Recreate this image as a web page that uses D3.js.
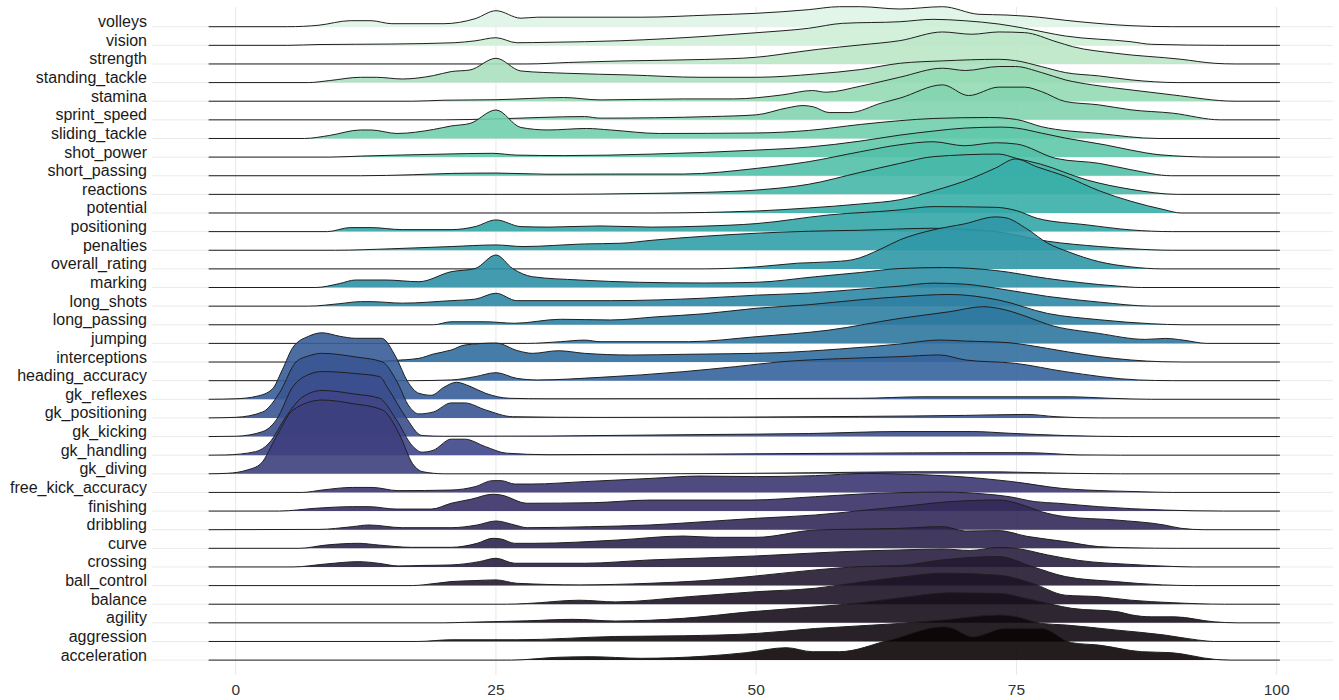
<!DOCTYPE html>
<html>
<head>
<meta charset="utf-8">
<script src="https://cdn.jsdelivr.net/npm/d3@7/dist/d3.min.js"></script>
<style>
  body { margin: 0; background: #fff; }
  text { font-family: "Liberation Sans", Arial, sans-serif; }
</style>
</head>
<body>
<svg id="chart" width="1339" height="700"></svg>
<script>
// rows, bottom to top
const attributes = ["acceleration","aggression","agility","balance","ball_control","crossing","curve",
  "dribbling","finishing","free_kick_accuracy","gk_diving","gk_handling","gk_kicking","gk_positioning",
  "gk_reflexes","heading_accuracy","interceptions","jumping","long_passing","long_shots","marking",
  "overall_rating","penalties","positioning","potential","reactions","short_passing","shot_power",
  "sliding_tackle","sprint_speed","stamina","standing_tackle","strength","vision","volleys"]
const xTicks = [0, 25, 50, 75, 100]

// estimated density heights, [value, height] pairs (height)
const acceleration = [[-2.6,0],[26.5,0],[30.9,2.8],[34.1,3.4],[38.9,1.8],[45.2,4],[49,7.4],[52.9,12.4],[55.4,8.4],[58,8.4],[62.8,20],[67.9,33.4],[68.6,32.8],[70.8,23.4],[73.9,31.8],[77.4,31.8],[80.3,17.4],[82.9,15],[87,8.4],[89.9,7.4],[94,0.8],[95.6,0],[100.3,0]]
const aggression = [[-2.6,0],[17.5,0],[20.7,1.7],[27,1.7],[36.5,5],[43,5.7],[50,8],[55.7,13],[63.8,18],[67.9,21.5],[73.3,26.5],[74.9,25],[77.4,18],[79.7,16.5],[84.5,11.5],[89.2,6.5],[92.4,1.5],[94,0],[100.3,0]]
const agility = [[-2.6,0],[20,0],[22,0.5],[28,2],[32.4,3.5],[36.5,1.8],[43,4.5],[49.4,11],[55.7,16],[60,20],[63.8,25],[68.6,30],[73.3,29.5],[76.5,23],[80.3,14.5],[84.8,11],[86,8],[88,6],[90.2,6],[94,1],[96.2,0],[100.3,0]]
const balance = [[-2.6,0],[26,0],[28,0.7],[33,4],[36.5,2.3],[43.5,7.5],[50,12.5],[55.7,16],[60,22],[63.8,27],[67.9,31],[73.3,29],[76.5,21],[79.7,9],[82.9,7.5],[86,4],[90,1.5],[95,0],[100.3,0]]
const ball_control = [[-2.6,0],[17,0],[18,0.7],[20.7,4],[23,5],[25,5.7],[27,2.3],[33,0.7],[39.8,2.3],[45,5],[49.4,9],[55.7,15.7],[60,19],[63.8,20],[67.9,25.7],[73.3,29],[76.5,19],[79.7,9],[84.5,4],[89,0.7],[92,0],[100.3,0]]
const crossing = [[-2.6,0],[5.5,0],[8.7,3],[11.8,5.3],[13.7,3.7],[15.6,1],[18,1.5],[20.7,2],[23.4,5.3],[25,8.7],[26.8,3.7],[33.5,3.7],[39.8,7],[45,9],[50,11],[55.7,14],[60,16],[63.8,17],[67.9,18],[70.5,16.5],[73.3,19.5],[75,18.5],[78,12],[81,6.5],[86,2.5],[90,0.5],[92,0],[100.3,0]]
const curve = [[-2.6,0],[6.1,0],[8.7,3.3],[11.8,5],[13.7,3.3],[16.9,1],[20.7,1],[23.2,5],[24.7,10],[25.5,9.3],[26.8,5],[28.7,5],[36.7,8.3],[43,12.3],[46,11],[50,11],[55.7,18.3],[63.8,20],[67.9,21.7],[70.1,17.3],[73.3,17.7],[76,12],[79.7,6.7],[82.9,1.7],[86,0.5],[90.5,0],[100.3,0]]
const dribbling = [[-2.6,0],[8,0.3],[11.2,3],[12.8,4.7],[16,2],[20.7,2],[23.2,4.7],[25,8.7],[26.8,4.7],[28,2],[34,3],[39.8,4.7],[45,8],[50,11.4],[55.7,14.7],[60,19],[63.8,23],[68.6,28],[73.3,29.7],[75.5,25],[77.4,18],[79.7,13],[84.5,9.7],[89.2,4.7],[90.8,1.4],[93,0],[100.3,0]]
const finishing = [[-2.6,0],[4.2,0],[7.7,2.8],[11.2,4.4],[12.8,4.4],[15.4,2],[18.8,2],[20.7,7.8],[22.6,11.8],[24.7,16.8],[25.5,16],[28,7.8],[34.4,8.4],[39.8,11],[49.4,11],[55.7,14.4],[60,17],[63.8,18.4],[67.9,19],[72,17],[74.3,14.4],[76.8,9.4],[79,7.8],[82.9,4.4],[89.2,1],[94.9,0],[100.3,0]]
const free_kick_accuracy = [[-2.6,0],[6.4,0],[8.3,2.4],[11.2,5],[13.1,5],[15.6,1.8],[20.7,2.4],[23,5.8],[24.7,11.8],[25.5,11.8],[26.8,8.4],[28.4,8.4],[33.5,10.8],[39.8,14],[44.6,16.4],[50,15.8],[55.7,16.8],[60.5,19],[63.8,18.4],[68.6,16.4],[74.6,10.8],[79.4,4],[84,1.5],[87,0.7],[90,0],[100.3,0]]
const gk_diving = [[-2.6,0],[-0.8,0.5],[1.1,3.8],[2.4,10],[3.9,37],[5.5,63.8],[8.3,73.8],[11.2,70.3],[14.1,63.8],[15.7,40],[17,10],[18,2],[20,0],[40,0],[55,1],[65,2],[72,2],[80,0.5],[85,0],[100.3,0]]
const gk_handling = [[-2.6,0],[-1,0.2],[1.9,3.5],[3.2,12],[4.8,38],[6.4,58],[8.3,64.7],[11.5,61],[13.8,57],[15.4,36],[17,9],[17.9,3],[19,5],[20.7,16],[22,16],[24,8.5],[26,2],[30,0.5],[60,2],[70,2.5],[76,2.5],[81,0.3],[85,0],[100.3,0]]
const gk_kicking = [[-2.6,0],[0,0.3],[2.6,5],[3.9,16.6],[5.5,50],[7,62],[8.3,65],[11.5,63],[13.8,60],[14.7,47],[16.3,20],[17.9,1],[20,0.3],[30,0.5],[35,1],[45,2],[55,3],[63.8,5],[70.8,5],[74.3,3.3],[79.7,1],[85.8,0],[100.3,0]]
const gk_positioning = [[-2.6,0],[0,0.6],[2.6,6],[4.2,25],[5.8,56],[7,62],[8.3,64.6],[11.5,61],[14.1,56],[15.4,38],[16.7,11],[17.6,4],[19,6],[20.7,15],[22,15],[24,8],[26.6,1.2],[35,0.5],[60,1.5],[70,2.5],[76,3.5],[78.8,1.2],[83,0],[100.3,0]]
const gk_reflexes = [[-2.6,0],[0,0.5],[2,3],[3.5,10],[4.5,30],[5.5,52],[7,63],[8.3,66.5],[10,63],[11.5,61],[14,61],[15.4,42],[16.5,18],[17.6,6],[18.8,4],[20,12],[21.2,17],[22.5,13],[24,6],[26.3,1],[30,0.5],[60,1],[66,2.5],[80,2.5],[84,1],[88,0],[100.3,0]]
const heading_accuracy = [[-2.6,0],[17,0],[20.7,0.7],[23,4],[25,8],[27,2.3],[29,0.7],[35,3.3],[43,9],[48,14],[52.5,19],[58,22],[63.8,24],[67.6,25.7],[70.1,20.7],[74.9,17.3],[79.7,9],[86.7,0.7],[90,0],[100.3,0]]
const interceptions = [[-2.6,0],[12,0],[15,1.5],[17.6,3.7],[19,8],[20.7,12],[22,17],[25,19],[27.1,11.3],[28.5,8.7],[31,11.3],[33.5,8.7],[38,7],[43,7.7],[52,9.3],[58,13],[63.8,18],[67.6,22],[70,21],[74.3,19.3],[76,17],[80,10],[83,5.3],[89,0.3],[91,0],[100.3,0]]
const jumping = [[-2.6,0],[28,0],[31.2,1.7],[33.5,3.3],[35,1.7],[43.5,1.7],[50,6.7],[57,13.3],[63.8,25],[68.6,31.7],[71.8,36.7],[73.3,35],[76,26.7],[78,19],[82.9,10],[87.4,4],[89.3,5],[91,3.3],[93.3,0],[100.3,0]]
const long_passing = [[-2.6,0],[19,0],[20.7,3],[24,3],[26.8,1.5],[31.2,5.5],[36,4.8],[40.5,8],[45,11],[50,16.5],[55,20],[60,25],[63.8,28],[68.6,30.3],[73.3,24.7],[78,11.3],[83,5],[88,1],[91,0],[100.3,0]]
const long_shots = [[-2.6,0],[7,0],[10,2.5],[12,4.5],[13,4.5],[16,3],[20.7,5.5],[23,7],[25,12.9],[27,5.5],[36,5.5],[45,8],[50,11],[55,13],[60,17],[63.8,20],[67,23],[70,22],[73,18],[78,9.7],[83,4],[88,0],[100.3,0]]
const marking = [[-2.6,0],[7.7,0],[10,4],[11.5,7.5],[14.4,7.5],[17.6,5.8],[20.7,15.8],[23,19],[25,32.5],[26.6,19],[28.5,10.8],[33,7.5],[38.8,5.2],[45,4.5],[50,5.2],[55.7,10.8],[60,15],[63.8,19],[68,20],[73,17],[78,9],[84.6,1.5],[87,0],[100.3,0]]
const overall_rating = [[-2.6,0],[45,0],[50,2],[54,5.7],[57,7],[59.2,9],[62,20],[63.8,29],[67,39],[70,45],[73,52],[74,51],[76,40],[78,25.7],[80,17],[82.9,7.3],[86,2],[89,0],[100.3,0]]
const penalties = [[-2.6,0],[9.6,0],[15,1.5],[20.7,3.7],[25,5.3],[27.6,3.7],[33.5,6.3],[37,7],[40,10],[45,14],[50,17],[55,19],[60,20],[67,22],[70,21],[73,18.7],[78,9],[83,3.7],[86,1.5],[90,0],[100.3,0]]
const positioning = [[-2.6,0],[8.8,0],[11,4],[13,4],[16,2],[20.7,2],[23,5],[25,11.7],[27.4,5],[30,4.5],[35,5.7],[40,4.5],[45,5.5],[50,8],[57,16.7],[63.8,21.7],[67,25],[73,24.3],[75,21],[77,13.3],[81.8,6.7],[86,1.7],[90,0],[100.3,0]]
const potential = [[-2.6,0],[40,0],[50,2],[55,5],[60,9],[63.8,13.3],[67,22],[70.8,35],[73,45],[74.9,54],[77,46],[79.7,36.7],[83,22],[86,11.7],[89.2,3.3],[90.8,0],[100.3,0]]
const reactions = [[-2.6,0],[30,0],[40,1],[45,2],[50,4.3],[55,10],[60,22],[63.8,31],[67,37.7],[73.3,40.3],[75,36],[77.3,30.3],[81.8,14.3],[86,5],[90.5,0],[100.3,0]]
const short_passing = [[-2.6,0],[12,0],[17,1],[20.7,2.3],[25,2.7],[30,1.5],[36,1.7],[43,1.7],[50,7.3],[55,14],[60,24],[63.8,31],[67,34],[70,30],[73,33],[75,31.7],[78.8,17.3],[83,12.3],[86,6],[89.9,0],[100.3,0]]
const shot_power = [[-2.6,0],[9,0],[12,1],[20,3],[24.6,3.8],[27,2],[31.5,1.5],[40,3],[50,7],[55,10],[60,16],[63.8,22],[67,26],[70,29],[73.6,30],[75,29],[77.4,24],[79.7,19],[83.5,12.3],[86,7],[88.8,2.3],[94,0],[100.3,0]]
const sliding_tackle = [[-2.6,0],[6.6,0],[9,3],[12,8.5],[13,8.5],[15.5,5],[19,9],[20.7,12.5],[22.5,15],[25,28.5],[27.4,11],[30,8.5],[33.7,10],[36,8.5],[40.7,5],[50,5.5],[55,8],[60,14],[63.8,17.8],[67,20],[72.4,21],[75,19],[77.4,11.8],[82.9,5],[88.6,0],[100.3,0]]
const sprint_speed = [[-2.6,0],[20,0],[25,1],[33.5,3.3],[35,1.7],[45.7,3.3],[50,5],[53,12],[54.5,14.3],[55.5,13],[57,7.3],[59,7.3],[62,16.7],[63.8,21.7],[67.9,35],[70.4,24.3],[73.3,32.7],[75.8,32.7],[77.4,28.3],[79.7,18.3],[82.9,15],[86,10],[90,6.7],[94.6,0],[100.3,0]]
const stamina = [[-2.6,0],[17,0],[20,1],[25,1.5],[31.5,3.7],[35,1.3],[43,2.3],[47.8,2.3],[52.5,6.3],[55.4,10.7],[56.7,9],[60,15],[63.8,24],[67.9,33],[70.1,30.7],[73.3,34.7],[74.9,34.7],[77.4,28.7],[79.7,21.3],[82.3,16.3],[86,11.3],[90,6.3],[96,0],[100.3,0]]
const standing_tackle = [[-2.6,0],[7,0],[9,2],[12,5.3],[13.5,5.3],[16,3.6],[19,7],[20.7,11],[22.5,12.6],[25,24.3],[27.4,11.6],[31.8,9.3],[37.9,7.6],[44.6,5.3],[50,5.3],[55.7,8.6],[60,13],[63.8,19.3],[67.9,21.7],[73.3,23.3],[74.9,22],[77.4,16],[79.7,10],[82.9,6.7],[86,2.7],[90.5,0],[100.3,0]]
const strength = [[-2.6,0],[28,0],[32,1.5],[37,3],[45,4.5],[50,6.7],[54.2,12.3],[56,14.7],[60,19],[63.8,23.3],[67.9,32],[70.7,29.7],[73.3,32],[75.8,31.3],[78.8,22.3],[80.4,17.3],[84.5,10.7],[90.8,4.7],[94,0.7],[96,0],[100.3,0]]
const vision = [[-2.6,0],[5,0],[8,0.8],[15,1.3],[21,2.6],[23,4.5],[25,7.6],[27,2.6],[30,3],[37,4.6],[45.6,9.3],[50,12.6],[55,17],[58.3,22],[63.8,23.6],[67,26],[70,24.6],[73.3,21.3],[75.8,17],[79.7,9.3],[86,3.6],[88,1],[95,0],[100.3,0]]
const volleys = [[-2.6,0],[5,0],[8,1.5],[11,6],[13,6],[15,3],[20,3],[23,8],[25,16],[27.4,8.5],[29,9.5],[39,9.5],[45.6,11.7],[50,13.4],[55,17],[58,20],[60,20],[63.8,17.7],[67.9,20],[71.4,12.4],[74,11.7],[76,10.5],[81,5],[86,1],[90,0],[100.3,0]]

const densities = {acceleration, aggression, agility, balance, ball_control, crossing, curve, dribbling,
  finishing, free_kick_accuracy, gk_diving, gk_handling, gk_kicking, gk_positioning, gk_reflexes,
  heading_accuracy, interceptions, jumping, long_passing, long_shots, marking, overall_rating, penalties,
  positioning, potential, reactions, short_passing, shot_power, sliding_tackle, sprint_speed, stamina,
  standing_tackle, strength, vision, volleys}

// mako-like ramp
const rampStops = [0, 0.12, 0.24, 0.32, 0.44, 0.5, 0.6, 0.7, 0.8, 0.88, 0.94, 1]
const rampColors = ["#0B0405","#231A33","#3A3168","#3F4587","#35649C","#2F77A0","#2E93A6","#36ACA9","#62CBA9","#93D9B3","#BCE7C7","#DEF5E5"]

const svg = d3.select("#chart")

const x = d3.scaleLinear().domain([0, 100]).range([235.7, 1276.7])
const y = d3.scalePoint().domain(attributes).range([660.1, 26.7])
const rowStep = y.step()
const h = d3.scaleLinear().domain([0, 80]).range([0, 80 * rowStep / 18.63])
const color = d3.scaleLinear().domain(rampStops).range(rampColors)

// grid
const grid = svg.append("g")
grid.selectAll(".hgrid")
    .data(attributes)
    .enter()
    .append("line")
    .attr("x1", 152).attr("x2", 1333)
    .attr("y1", d => y(d)).attr("y2", d => y(d))
    .attr("stroke", "#ebebeb").attr("stroke-width", 1)
grid.selectAll(".vgrid")
    .data(xTicks)
    .enter()
    .append("line")
    .attr("x1", d => x(d)).attr("x2", d => x(d))
    .attr("y1", 7).attr("y2", 675)
    .attr("stroke", "#e8e8e8").attr("stroke-width", 1)

// ridges, drawn from the top row down so lower ones sit in front
const area = d3.area()
    .x(d => x(d[0]))
    .y0(0)
    .y1(d => -h(d[1]))
    .curve(d3.curveMonotoneX)
const line = d3.line()
    .x(d => x(d[0]))
    .y(d => -h(d[1]))
    .curve(d3.curveMonotoneX)

const ridges = svg.append("g")
    .selectAll("g")
    .data(attributes.slice().reverse())
    .enter()
    .append("g")
    .attr("transform", d => `translate(0,${y(d)})`)

ridges.append("path")
    .attr("d", d => area(densities[d]))
    .attr("fill", d => color(attributes.indexOf(d) / (attributes.length - 1)))
    .attr("fill-opacity", 0.9)
ridges.append("path")
    .attr("d", d => line(densities[d]))
    .attr("fill", "none")
    .attr("stroke", "#1f1f1f")
    .attr("stroke-width", 1)

// y labels
svg.append("g")
    .selectAll("text")
    .data(attributes)
    .enter()
    .append("text")
    .attr("x", 147)
    .attr("y", d => y(d) + 0.5)
    .attr("text-anchor", "end")
    .attr("font-size", "16px")
    .attr("fill", "#1a1a1a")
    .text(d => d)

// x tick labels
svg.append("g")
    .selectAll("text")
    .data(xTicks)
    .enter()
    .append("text")
    .attr("x", d => x(d))
    .attr("y", 695)
    .attr("text-anchor", "middle")
    .attr("font-size", "15.5px")
    .attr("fill", "#333")
    .text(d => d)
</script>
</body>
</html>
